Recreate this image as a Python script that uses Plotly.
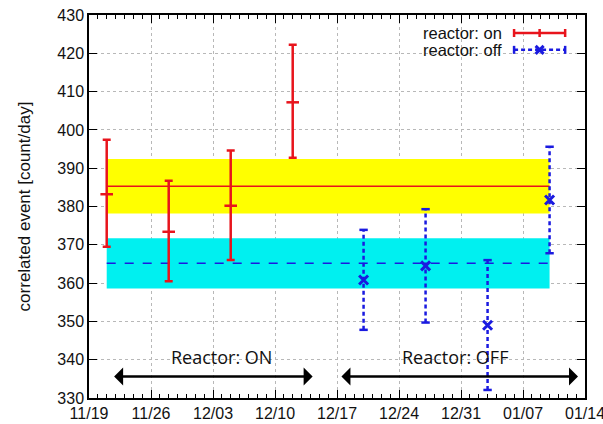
import plotly.graph_objects as go

# ---- data ----
on_dates = ["2012-11-21", "2012-11-28", "2012-12-05", "2012-12-12"]
on_vals = [383.2, 373.4, 380.2, 407.2]
on_err_plus = [14.2, 13.3, 14.4, 15.0]
on_err_minus = [13.7, 12.9, 14.2, 14.5]

off_dates = ["2012-12-20", "2012-12-27", "2013-01-03", "2013-01-10"]
off_vals = [360.8, 364.5, 349.0, 381.7]
off_err_plus = [13.1, 14.8, 17.0, 13.9]
off_err_minus = [13.0, 14.8, 16.9, 13.9]

on_mean = 385.3
on_band = [378.2, 392.4]
off_mean = 365.2
off_band = [358.6, 371.7]
band_dates = ["2012-11-21", "2013-01-10"]

x_range = ["2012-11-19", "2013-01-14 00:00:01"]
y_range = [330, 430]

RED = "#e8141c"
BLUE = "#1a1ae0"
YELLOW = "#ffff00"
CYAN = "#00f0f0"

fig = go.Figure()

# bands
fig.add_trace(go.Scatter(
    x=[band_dates[0], band_dates[1], band_dates[1], band_dates[0], band_dates[0]],
    y=[on_band[0], on_band[0], on_band[1], on_band[1], on_band[0]],
    fill="toself", fillcolor=YELLOW, line=dict(width=0), mode="lines",
    hoverinfo="skip", showlegend=False))
fig.add_trace(go.Scatter(
    x=[band_dates[0], band_dates[1], band_dates[1], band_dates[0], band_dates[0]],
    y=[off_band[0], off_band[0], off_band[1], off_band[1], off_band[0]],
    fill="toself", fillcolor=CYAN, line=dict(width=0), mode="lines",
    hoverinfo="skip", showlegend=False))
# mean lines
fig.add_trace(go.Scatter(x=band_dates, y=[on_mean, on_mean], mode="lines",
                         line=dict(color=RED, width=1.5), showlegend=False))
fig.add_trace(go.Scatter(x=band_dates, y=[off_mean, off_mean], mode="lines",
                         line=dict(color=BLUE, width=1.5, dash="dash"), showlegend=False))

# reactor on: solid error bars
fig.add_trace(go.Scatter(
    x=on_dates, y=on_vals, mode="markers",
    marker=dict(symbol="line-ew-open", size=9, color=RED, line=dict(color=RED, width=2.5)),
    error_y=dict(type="data", symmetric=False, array=on_err_plus, arrayminus=on_err_minus,
                 color=RED, thickness=2.5, width=4),
    showlegend=False))

# reactor off: dashed error bars
seg_x, seg_y, cap_x, cap_y = [], [], [], []
for d, v, ep, em in zip(off_dates, off_vals, off_err_plus, off_err_minus):
    seg_x += [d, d, None]
    seg_y += [v - em, v + ep, None]
    cap_x += [d, d]
    cap_y += [v - em, v + ep]
fig.add_trace(go.Scatter(x=seg_x, y=seg_y, mode="lines",
                         line=dict(color=BLUE, width=2.5, dash="4px,3px"), showlegend=False))
fig.add_trace(go.Scatter(x=cap_x, y=cap_y, mode="markers",
                         marker=dict(symbol="line-ew-open", size=6, color=BLUE, line=dict(color=BLUE, width=2.5)),
                         showlegend=False))
fig.add_trace(go.Scatter(x=off_dates, y=off_vals, mode="markers",
                         marker=dict(symbol="x-thin-open", size=9, color=BLUE, line=dict(color=BLUE, width=3)),
                         showlegend=False))

# arrows
for (x0, x1) in [("2012-11-21 16:00", "2012-12-14 06:00"), ("2012-12-17 08:00", "2013-01-13 05:00")]:
    fig.add_annotation(x=x1, y=335.6, ax=x0, ay=335.6, xref="x", yref="y", axref="x", ayref="y",
                       showarrow=True, arrowhead=1, arrowside="end+start", arrowsize=1.2,
                       arrowwidth=2.5, arrowcolor="black", text="")
fig.add_annotation(x="2012-12-04", y=340.8, text="Reactor: ON", showarrow=False,
                   font=dict(family="Open Sans", size=18, color="#111"))
fig.add_annotation(x="2012-12-30 08:00", y=340.8, text="Reactor: OFF", showarrow=False,
                   font=dict(family="Open Sans", size=18, color="#111"))

# custom legend
lf = dict(family="Liberation Sans, Arial", size=16.5, color="#111")
fig.add_annotation(xref="paper", yref="paper", x=0.837, y=0.953, text="reactor: on",
                   showarrow=False, xanchor="right", yanchor="middle", font=lf)
fig.add_annotation(xref="paper", yref="paper", x=0.837, y=0.909, text="reactor: off",
                   showarrow=False, xanchor="right", yanchor="middle", font=lf)
px_x = 1 / 496
px_y = 1 / 383
lx0, lx1, lxm = 0.857, 0.960, 0.9085
for yy, col, dash in [(0.953, RED, "solid"), (0.909, BLUE, "4px,3px")]:
    fig.add_shape(type="line", xref="paper", yref="paper", x0=lx0, x1=lx1, y0=yy, y1=yy,
                  line=dict(color=col, width=2.5, dash=dash))
    for xx in (lx0, lx1):
        fig.add_shape(type="line", xref="paper", yref="paper", x0=xx, x1=xx,
                      y0=yy - 4 * px_y, y1=yy + 4 * px_y, line=dict(color=col, width=2.5))
fig.add_shape(type="line", xref="paper", yref="paper", x0=lxm, x1=lxm,
              y0=0.953 - 4 * px_y, y1=0.953 + 4 * px_y, line=dict(color=RED, width=2.5))
for s in (1, -1):
    fig.add_shape(type="line", xref="paper", yref="paper", x0=lxm - 4 * px_x, x1=lxm + 4 * px_x,
                  y0=0.909 - s * 4 * px_y, y1=0.909 + s * 4 * px_y, line=dict(color=BLUE, width=3))

tick_font = dict(family="Liberation Sans, Arial", size=16, color="#111")
fig.update_xaxes(
    type="date", range=x_range, tick0="2012-11-19", dtick=7 * 24 * 3600 * 1000,
    tickformat="%m/%d", ticks="inside", ticklen=8, tickwidth=1, tickcolor="black",
    minor=dict(dtick=24 * 3600 * 1000, ticks="inside", ticklen=4, tickcolor="black", showgrid=False),
    showline=True, linecolor="black", linewidth=1.5, mirror="ticks",
    showgrid=True, gridcolor="#b8b8b8", griddash="dot", gridwidth=1,
    tickfont=tick_font, zeroline=False, automargin=False, ticklabeloverflow="allow")
fig.update_yaxes(
    range=y_range, dtick=10, ticks="inside", ticklen=8, tickwidth=1, tickcolor="black",
    showline=True, linecolor="black", linewidth=1.5, mirror="ticks",
    showgrid=True, gridcolor="#b8b8b8", griddash="dot", gridwidth=1,
    tickfont=tick_font, zeroline=False, automargin=False,
    title=dict(text="correlated event [count/day]", font=dict(family="Liberation Sans, Arial", size=17, color="#111"),
               standoff=22))

fig.update_layout(
    width=603, height=424, margin=dict(l=89, r=18, t=15, b=26),
    paper_bgcolor="white", plot_bgcolor="white", showlegend=False)

fig.write_html("out.html")
